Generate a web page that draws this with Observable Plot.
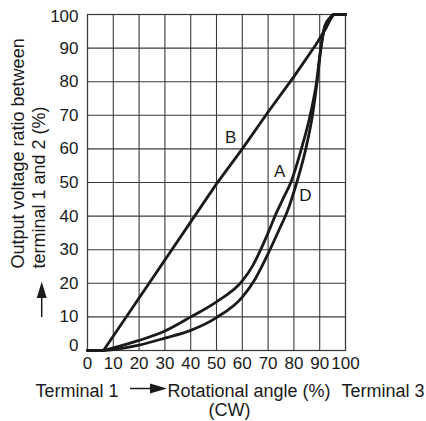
<!DOCTYPE html>
<html>
<head>
<meta charset="utf-8">
<script src="https://cdn.jsdelivr.net/npm/d3@7"></script>
<script src="https://cdn.jsdelivr.net/npm/@observablehq/plot@0.6"></script>
<style>
  html, body { margin: 0; padding: 0; background: #fff; }
</style>
</head>
<body>
<div id="chart"></div>
<script>
// ---- data ----
const xTicks = [0, 10, 20, 30, 40, 50, 60, 70, 80, 90, 100];
const yTicks = [0, 10, 20, 30, 40, 50, 60, 70, 80, 90, 100];

// Curve B (linear taper)
const angleB = [0, 6.2, 50, 60, 70, 80, 88.5, 92.5, 94.3, 95.5, 100];
const ratioB = [0, 0, 49.6, 60, 71, 81.5, 91, 96, 98.8, 100, 100];

// Curve A
const angleA = [0, 5.5, 10, 20, 30, 40, 50, 60, 64, 67, 70, 73, 76, 78.8, 82.9, 86.3, 88.8, 90.4, 92, 94, 95.5, 100];
const ratioA = [0, 0, 0.8, 3, 5.8, 10, 14.5, 20.7, 25.2, 29.8, 35, 40.6, 45.5, 50, 60, 70, 80, 90, 96.5, 99, 100, 100];

// Curve D
const angleD = [0, 5.5, 10, 20, 30, 40, 50, 60, 65, 70, 74, 77.5, 81.1, 84.6, 87.2, 89, 90.5, 92, 94, 95.5, 100];
const ratioD = [0, 0, 0.3, 1.6, 3.7, 6, 9.8, 15.9, 21.3, 28.8, 35.5, 41.5, 50, 60, 70, 80, 90, 96.5, 99, 100, 100];

const curveLabels = ["B", "A", "D"];
const labelX = [55.5, 74.5, 84.5];
const labelY = [63.3, 53.2, 46.2];

// ---- build tables ----
const toRows = (xs, ys, name) => xs.map((x, i) => ({x, y: ys[i], name}));
const rowsB = toRows(angleB, ratioB, "B");
const rowsAD = [...toRows(angleA, ratioA, "A"), ...toRows(angleD, ratioD, "D")];
const labels = curveLabels.map((t, i) => ({t, x: labelX[i], y: labelY[i]}));

const font = "'Liberation Sans', Arial, Helvetica, sans-serif";
const ink = "#1a1a1a";
const gridColor = "#3a3a3a";

const chart = Plot.plot({
  width: 426,
  height: 421,
  marginLeft: 87,
  marginRight: 81,
  marginTop: 14,
  marginBottom: 71,
  x: {domain: [0, 100]},
  y: {domain: [0, 100]},
  style: {fontFamily: font, fontSize: "17px", background: "#fff", color: ink, overflow: "visible"},
  marks: [
    Plot.gridX(xTicks, {stroke: gridColor, strokeOpacity: 1, strokeWidth: 1.1}),
    Plot.gridY(yTicks, {stroke: gridColor, strokeOpacity: 1, strokeWidth: 1.1}),
    Plot.frame({stroke: gridColor, strokeWidth: 1.2}),
    Plot.axisX(xTicks, {tickSize: 0, tickPadding: 6, label: null, fontSize: 17, fill: ink}),
    Plot.axisY(yTicks.filter(v => v > 0 && v < 100), {tickSize: 0, tickPadding: 9, label: null, fontSize: 17, fill: ink}),
    Plot.axisY([0], {tickSize: 0, tickPadding: 9, label: null, fontSize: 17, fill: ink, dy: -5}),
    Plot.axisY([100], {tickSize: 0, tickPadding: 9, label: null, fontSize: 17, fill: ink, dy: 2}),
    Plot.line(rowsB, {x: "x", y: "y", stroke: ink, strokeWidth: 2.8, curve: "linear", strokeLinejoin: "round"}),
    Plot.line(rowsAD, {x: "x", y: "y", z: "name", stroke: ink, strokeWidth: 2.8, curve: "monotone-x"}),
    Plot.text(labels, {x: "x", y: "y", text: "t", fontSize: 17, fill: ink}),
    // y axis title (two lines, rotated)
    Plot.text(["Output voltage ratio between"], {frameAnchor: "left", rotate: -90, textAnchor: "start", dx: -69.5, dy: 86, fontSize: 18, fill: ink}),
    Plot.text(["terminal 1 and 2 (%)"], {frameAnchor: "left", rotate: -90, textAnchor: "start", dx: -48, dy: 86, fontSize: 18, fill: ink}),
    // x axis title pieces
    Plot.text(["Terminal 1"], {frameAnchor: "bottom-left", textAnchor: "start", lineAnchor: "bottom", dx: -52, dy: 46, fontSize: 18, fill: ink}),
    Plot.text(["Rotational angle (%)"], {frameAnchor: "bottom-left", textAnchor: "start", lineAnchor: "bottom", dx: 80, dy: 46, fontSize: 18, fill: ink}),
    Plot.text(["Terminal 3"], {frameAnchor: "bottom-left", textAnchor: "start", lineAnchor: "bottom", dx: 254, dy: 46, fontSize: 18, fill: ink}),
    Plot.text(["(CW)"], {frameAnchor: "bottom-left", textAnchor: "start", lineAnchor: "bottom", dx: 121, dy: 65, fontSize: 18, fill: ink})
  ]
});

// decorative arrows in the axis titles
const svg = d3.select(chart);
svg.append("line").attr("x1", 130).attr("y1", 388.5).attr("x2", 152).attr("y2", 388.5)
  .attr("stroke", ink).attr("stroke-width", 1.5);
svg.append("path").attr("d", "M150,383.5 L167,388.5 L150,393.5 Z").attr("fill", ink);
svg.append("line").attr("x1", 41.7).attr("y1", 297).attr("x2", 41.7).attr("y2", 317)
  .attr("stroke", ink).attr("stroke-width", 1.5);
svg.append("path").attr("d", "M36.7,298 L41.7,281.7 L46.7,298 Z").attr("fill", ink);

document.getElementById("chart").appendChild(chart);
</script>
</body>
</html>
